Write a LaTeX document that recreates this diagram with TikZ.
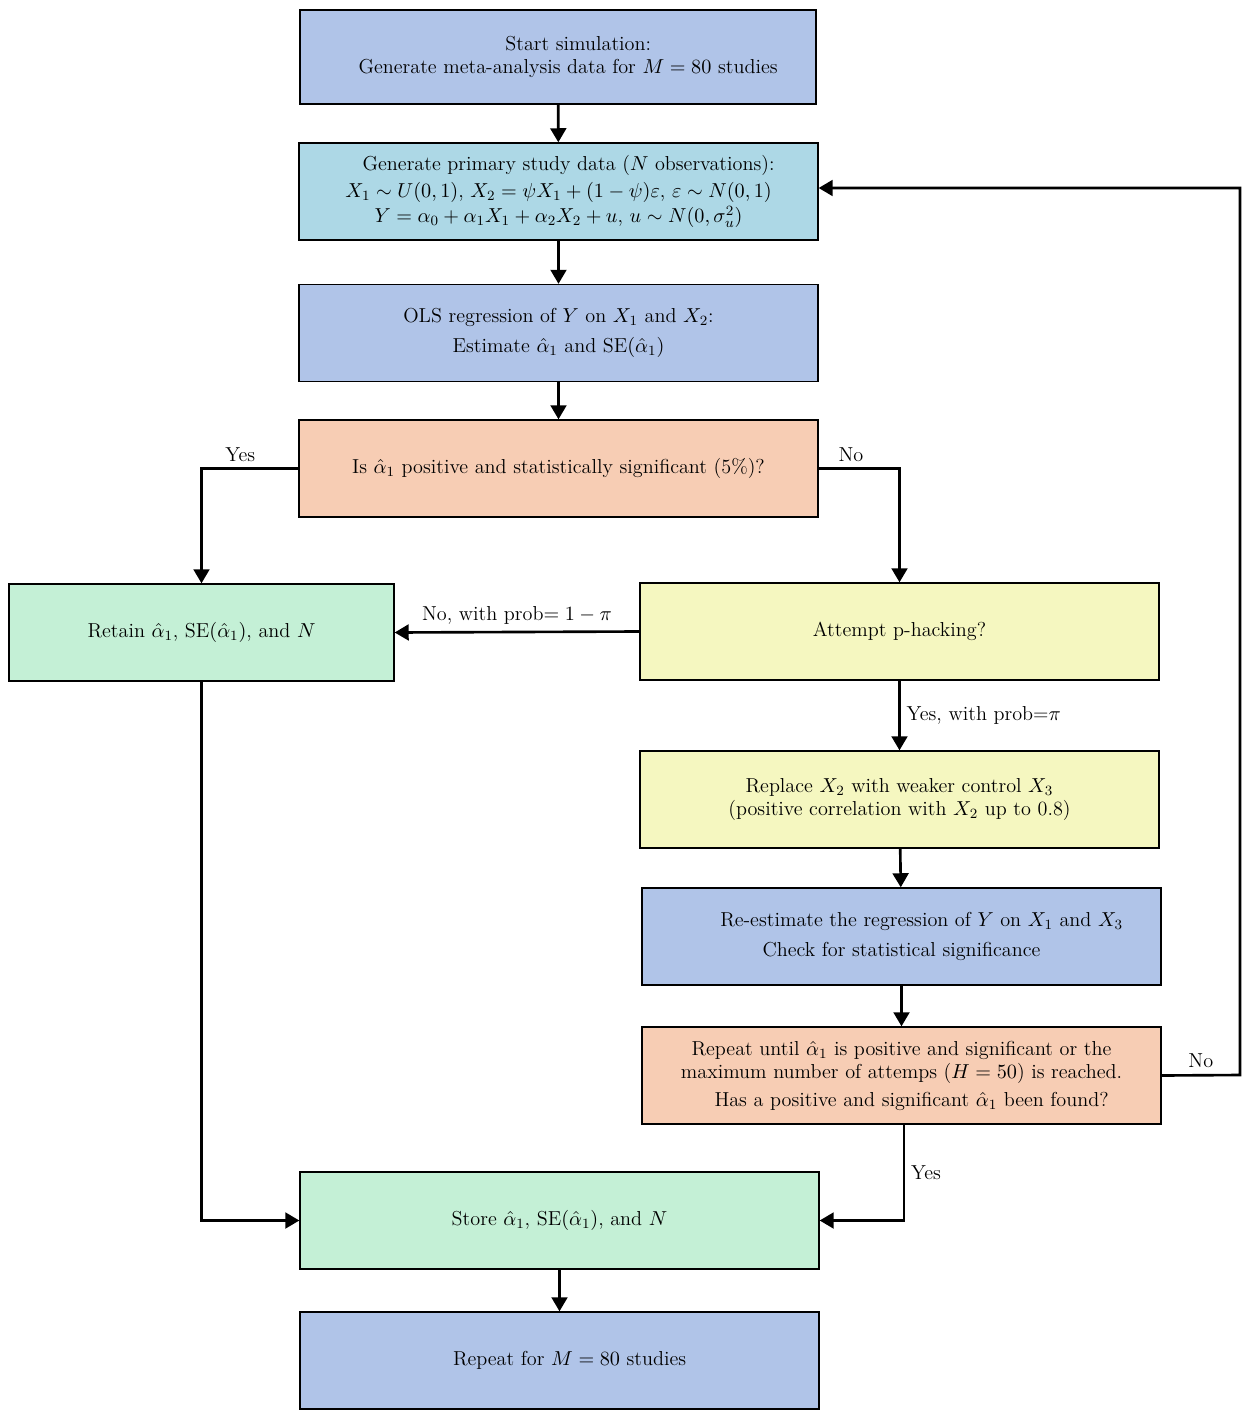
\documentclass[tikz,border=0pt]{standalone}
\usepackage{amsmath}
\usepackage{fix-cm}
\usetikzlibrary{arrows.meta,calc}
\definecolor{cblue}{HTML}{B0C4E8}
\definecolor{clight}{HTML}{ADD8E6}
\definecolor{cpeach}{HTML}{F7CDB4}
\definecolor{cgreen}{HTML}{C4F0D6}
\definecolor{cyellow}{HTML}{F5F7C0}
\tikzset{
 box/.style={draw, line width=0.8pt, minimum width=10.38cm, minimum height=1.94cm, align=center, inner sep=2pt},
 conn/.style={line width=1.5pt, -{Triangle[length=8pt,width=9pt]}},
 lbl/.style={}
}
\begin{document}
\begin{tikzpicture}[x=0.02cm,y=-0.02cm,font=\fontsize{11.5}{13.5}\selectfont]
\useasboundingbox (0,0) rectangle (1250,1419);
\node[box,fill=cblue,minimum width=10.32cm,minimum height=1.88cm] (start) at (558,57) {\quad\quad Start simulation:\\\quad Generate meta-analysis data for $M=80$ studies};
\node[box,fill=clight,minimum height=1.94cm] (gen) at (558.5,191.5) {\quad Generate primary study data ($N$ observations):\\[2pt]$X_1\sim U(0,1)$, $X_2=\psi X_1+(1-\psi)\varepsilon$, $\varepsilon\sim N(0,1)$\\[1pt]$Y=\alpha_0+\alpha_1X_1+\alpha_2X_2+u$, $u\sim N(0,\sigma_u^2)$};
\node[box,fill=cblue] (ols) at (558.5,333) {OLS regression of $Y$ on $X_1$ and $X_2$:\\[4pt]Estimate $\hat\alpha_1$ and SE$(\hat\alpha_1)$};
\node[box,fill=cpeach] (is) at (558.5,468.5) {Is $\hat\alpha_1$ positive and statistically significant (5\%)?};
\node[box,fill=cgreen,minimum width=7.7cm] (ret) at (201.5,632.5) {Retain $\hat\alpha_1$, SE$(\hat\alpha_1)$, and $N$};
\node[box,fill=cyellow] (att) at (899.5,631.5) {Attempt p-hacking?};
\node[box,fill=cyellow] (rep) at (899.5,799.5) {Replace $X_2$ with weaker control $X_3$\\(positive correlation with $X_2$ up to 0.8)};
\node[box,fill=cblue] (re) at (901.5,936.5) {\quad\quad Re-estimate the regression of $Y$ on $X_1$ and $X_3$\\[4pt]Check for statistical significance};
\node[box,fill=cpeach] (ru) at (901.5,1075.5) {Repeat until $\hat\alpha_1$ is positive and significant or the\\maximum number of attemps ($H=50$) is reached.\\[2pt]\quad Has a positive and significant $\hat\alpha_1$ been found?};
\node[box,fill=cgreen] (st) at (559.5,1220.5) {Store $\hat\alpha_1$, SE$(\hat\alpha_1)$, and $N$};
\node[box,fill=cblue] (rf) at (559.5,1360.5) {\quad Repeat for $M=80$ studies};
\draw[conn] (start) -- (gen);
\draw[conn] (gen) -- (ols);
\draw[conn] (ols) -- (is);
\draw[conn] (is.west) -| node[pos=0.3,above]{Yes} (ret.north);
\draw[conn] (is.east) -| node[pos=0.2,above]{No} (att.north);
\draw[conn] (att.west) -- node[above]{No, with prob$=1-\pi$} (ret.east);
\draw[conn] (att) -- node[right]{Yes, with prob=$\pi$} (rep);
\draw[conn] (rep) -- (re);
\draw[conn] (re) -- (ru);
\coordinate (c1) at (1240,1075);
\coordinate (c2) at (1240,188);
\draw[conn] (ru.east) -- node[above]{No} (c1) -- (c2) -- (gen.east|-c2);
\draw[conn] (ru.south-|904,0) |- node[pos=0.25,right]{Yes} (st.east);
\draw[conn] (ret.south) |- (st.west);
\draw[conn] (st) -- (rf);
\end{tikzpicture}
\end{document}
